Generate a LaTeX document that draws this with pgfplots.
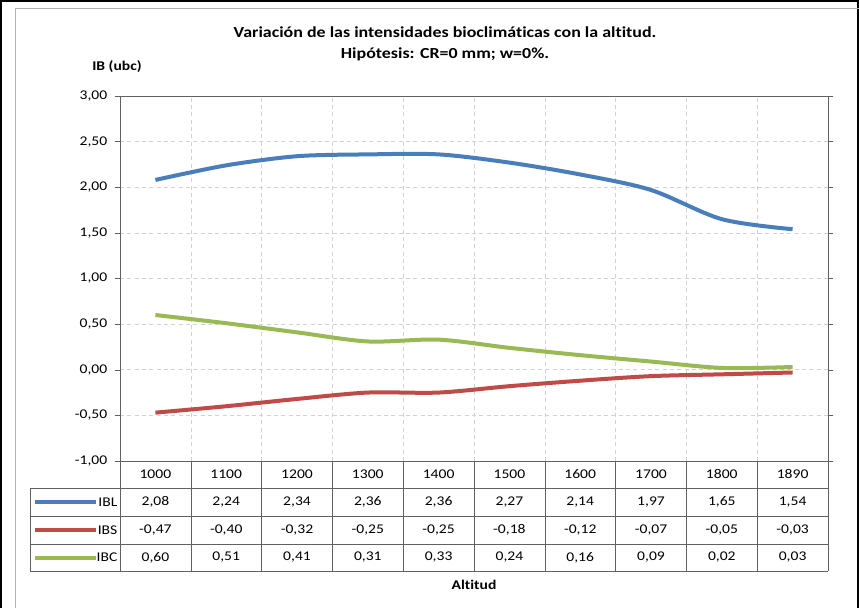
\documentclass[border=0pt]{standalone}
\usepackage{pgfplots}
\pgfplotsset{compat=1.18}
\usepackage{fontspec}
\setmainfont{Carlito}[Ligatures=NoCommon]
\newfontfamily\wide[FakeStretch=1.17,Ligatures=NoCommon]{Carlito}
\definecolor{cbl}{RGB}{74,126,187}
\definecolor{cbs}{RGB}{190,75,72}
\definecolor{cbc}{RGB}{152,185,84}
\begin{document}
\begin{tikzpicture}
\begin{scope}[x=0.75pt,y=0.75pt]
\useasboundingbox (0,0) rectangle (859,607);
\draw[black,line width=1.5pt] (1,-2) -- (1,606) -- (858,606) -- (858,-2);
\draw[gray!60] (15,-2) -- (15,599) -- (859,599);
\node[font=\wide\bfseries\fontsize{11.5}{13}\selectfont] at (445,575) {Variación de las intensidades bioclimáticas con la altitud.};
\node[font=\wide\bfseries\fontsize{11.5}{13}\selectfont] at (445,552.5) {Hipótesis: CR=0 mm; w=0\%.};
\node[font=\wide\bfseries\fontsize{10}{12}\selectfont] at (117,540) {IB (ubc)};
\end{scope}
\begin{axis}[at={(90pt,109.5pt)}, anchor=south west, width=531pt, height=273.75pt, scale only axis,
  xmin=0.5, xmax=10.5, ymin=-1, ymax=3,
  ytick={-1,-0.5,...,3.01},
  xtick={1.5,2.5,...,9.5}, xticklabels={}, xtick style={draw=none},
  xmajorgrids, ymajorgrids,
  grid style={gray!35, dash pattern=on 3pt off 2.5pt},
  axis line style={draw=gray!75!black},
  ytick style={draw=gray!75!black},
  tick align=outside, major tick length=4pt,
  yticklabel style={font=\wide\fontsize{10}{12}\selectfont, xshift=-2pt},
  /pgf/number format/.cd, fixed, fixed zerofill, precision=2, use comma, assume math mode=true]
\addplot[smooth, cbl, line width=3pt] coordinates {(1,2.08) (2,2.24) (3,2.34) (4,2.36) (5,2.36) (6,2.27) (7,2.14) (8,1.97) (9,1.65) (10,1.54)};
\addplot[smooth, cbs, line width=3pt] coordinates {(1,-0.47) (2,-0.40) (3,-0.32) (4,-0.25) (5,-0.25) (6,-0.18) (7,-0.12) (8,-0.07) (9,-0.05) (10,-0.03)};
\addplot[smooth, cbc, line width=3pt] coordinates {(1,0.60) (2,0.51) (3,0.41) (4,0.31) (5,0.33) (6,0.24) (7,0.16) (8,0.09) (9,0.02) (10,0.03)};
\end{axis}
\begin{scope}[x=0.75pt,y=0.75pt]
\begin{scope}[draw=gray!75!black]
\foreach \k in {0,...,10} \draw (120+70.8*\k,146) -- (120+70.8*\k,36);
\foreach \yy in {119,91,63,36} \draw (30,\yy) -- (828,\yy);
\draw (30,119) -- (30,36);
\end{scope}
\begin{scope}[font=\wide\fontsize{10}{12}\selectfont]
\foreach \v [count=\k] in {1000,1100,1200,1300,1400,1500,1600,1700,1800,1890}
  \node at (120+70.8*\k-35.4,133) {\v};
\foreach \v [count=\k] in {{2,08},{2,24},{2,34},{2,36},{2,36},{2,27},{2,14},{1,97},{1,65},{1,54}}
  \node at (120+70.8*\k-35.4,105) {\v};
\foreach \v [count=\k] in {{-0,47},{-0,40},{-0,32},{-0,25},{-0,25},{-0,18},{-0,12},{-0,07},{-0,05},{-0,03}}
  \node at (120+70.8*\k-35.4,77) {\v};
\foreach \v [count=\k] in {{0,60},{0,51},{0,41},{0,31},{0,33},{0,24},{0,16},{0,09},{0,02},{0,03}}
  \node at (120+70.8*\k-35.4,49.5) {\v};
\draw[cbl,line width=3pt] (35,105) -- (96,105); \node[anchor=east,inner sep=1pt] at (119,105) {IBL};
\draw[cbs,line width=3pt] (35,77) -- (96,77); \node[anchor=east,inner sep=1pt] at (119,77) {IBS};
\draw[cbc,line width=3pt] (35,49.5) -- (96,49.5); \node[anchor=east,inner sep=1pt] at (119,49.5) {IBC};
\end{scope}
\node[font=\wide\bfseries\fontsize{10}{12}\selectfont] at (474,22) {Altitud};
\end{scope}
\end{tikzpicture}
\end{document}
